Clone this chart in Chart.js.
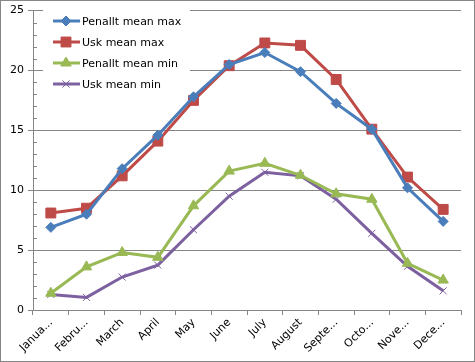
<!DOCTYPE html>
<html><head><meta charset="utf-8">
<script src="https://cdn.jsdelivr.net/npm/chart.js@4/dist/chart.umd.min.js"></script>
<style>html,body{margin:0;padding:0;background:#fff}canvas{display:block}</style>
</head><body>
<canvas id="c" width="475" height="362"></canvas>
<script>
const categories = ["Janua...", "Febru...", "March", "April", "May", "June", "July", "August", "Septe...", "Octo...", "Nove...", "Dece..."];
const penalltMax = [6.9, 8.0, 11.8, 14.6, 17.8, 20.5, 21.5, 19.9, 17.25, 15.1, 10.2, 7.4];
const uskMax = [8.1, 8.5, 11.2, 14.1, 17.5, 20.4, 22.3, 22.1, 19.25, 15.1, 11.1, 8.4];
const penalltMin = [1.4, 3.6, 4.8, 4.4, 8.7, 11.6, 12.25, 11.25, 9.7, 9.25, 3.9, 2.5];
const uskMin = [1.3, 1.05, 2.75, 3.75, 6.7, 9.5, 11.5, 11.2, 9.25, 6.4, 3.65, 1.6];
const seriesNames = ["Penallt mean max", "Usk mean max", "Penallt mean min", "Usk mean min"];
const yTicks = [0, 5, 10, 15, 20, 25];

const FONT = "DejaVu Sans";
const styles = [
  {c:"#4A7EBB", p:"rectRot", r:5},
  {c:"#BE4B48", p:"rect", r:7},
  {c:"#98B954", p:"triangle", r:6},
  {c:"#7D60A0", p:"crossRot", r:5}
];
const allData = [penalltMax, uskMax, penalltMin, uskMin];

const frame = {
  id:"frame",
  beforeDatasetsDraw(chart){
    const ctx = chart.ctx, y = chart.scales.y;
    ctx.save();
    ctx.fillStyle = "#fff";
    ctx.fillRect(43, 9, 147, 88);
    ctx.strokeStyle = "#868686"; ctx.lineWidth = 1;
    const x0 = chart.chartArea.left;
    for (let v = 0; v <= 25; v++) {
      if (v % 5 === 0) continue;
      const py = Math.round(y.getPixelForValue(v)) + 0.5;
      ctx.beginPath(); ctx.moveTo(x0, py); ctx.lineTo(x0 + 4, py); ctx.stroke();
    }
    ctx.restore();
  },
  afterDraw(chart){
    const ctx = chart.ctx;
    ctx.save();
    ctx.font = "11px '" + FONT + "'";
    ctx.textBaseline = "middle";
    chart.data.datasets.forEach((ds, i) => {
      const yy = 21 + i * 21;
      ctx.strokeStyle = ds.borderColor; ctx.lineWidth = 3;
      ctx.beginPath(); ctx.moveTo(53, yy); ctx.lineTo(80, yy); ctx.stroke();
      ctx.fillStyle = ds.borderColor; ctx.strokeStyle = ds.borderColor; ctx.lineWidth = 1;
      Chart.helpers.drawPoint(ctx, {pointStyle: ds.pointStyle, radius: ds.pointRadius, borderWidth: 1}, 66, yy);
      ctx.fillStyle = "#000";
      ctx.fillText(ds.label, 82, yy + 1);
    });
    ctx.strokeStyle = "#868686"; ctx.lineWidth = 1;
    ctx.strokeRect(0.5, 0.5, 474, 361);
    ctx.restore();
  }
};

new Chart(document.getElementById("c"), {
  type: "line",
  data: {
    labels: categories,
    datasets: allData.map((d, i) => ({
      label: seriesNames[i],
      data: d,
      borderColor: styles[i].c,
      backgroundColor: styles[i].c,
      pointBackgroundColor: styles[i].c,
      pointBorderColor: styles[i].c,
      pointStyle: styles[i].p,
      pointRadius: styles[i].r,
      pointBorderWidth: 1,
      borderWidth: 3,
      tension: 0
    }))
  },
  options: {
    responsive: false,
    animation: false,
    devicePixelRatio: 1,
    layout: {padding: {top: 10, right: 14, left: 0, bottom: 0}},
    plugins: {legend: {display: false}, tooltip: {enabled: false}},
    scales: {
      x: {
        offset: true,
        grid: {offset: true, drawOnChartArea: false, color: "#868686", tickLength: 5, tickColor: "#868686"},
        border: {color: "#868686"},
        ticks: {minRotation: 45, maxRotation: 45, autoSkip: false, color: "#000", font: {family: FONT, size: 11}, padding: 1},
        afterFit(s){ s.height = 52; }
      },
      y: {
        min: 0, max: 25,
        afterBuildTicks(s){ s.ticks = yTicks.map(v => ({value: v})); },
        grid: {color: "#868686", tickLength: 5, tickColor: "#868686"},
        border: {color: "#868686"},
        ticks: {color: "#000", font: {family: FONT, size: 11}, padding: 4},
        afterFit(s){ s.width = 33; }
      }
    }
  },
  plugins: [frame]
});
</script>
</body></html>
